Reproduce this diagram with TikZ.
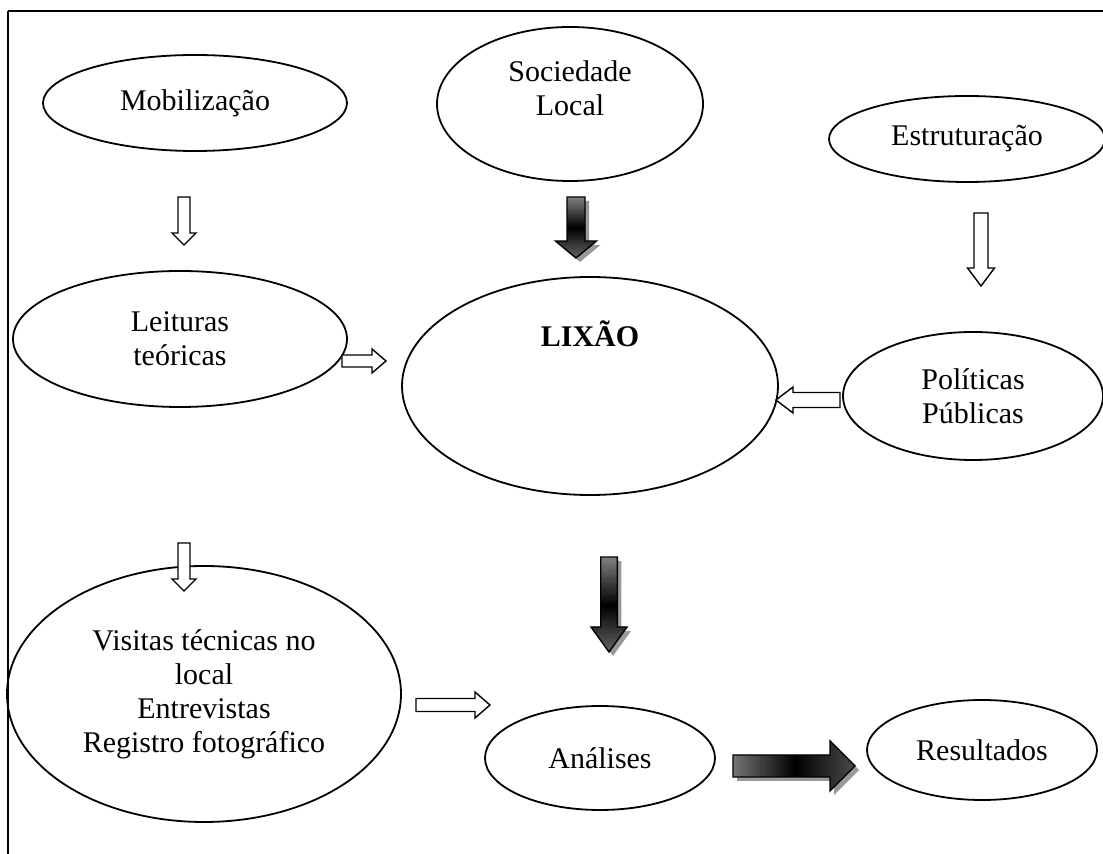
\documentclass[tikz,border=0pt]{standalone}
\usepackage{fontspec}
\setmainfont{Liberation Serif}
\usetikzlibrary{shapes.geometric}
% block arrows: #1 style, #2 x, #3 y, #4 length, #5 shaft half width, #6 head half width, #7 head length
\newcommand\downarr[7]{%
  \path[#1] ({#2-#5},#3) -- ({#2-#5},{#3+#4-#7}) -- ({#2-#6},{#3+#4-#7}) -- (#2,{#3+#4})
    -- ({#2+#6},{#3+#4-#7}) -- ({#2+#5},{#3+#4-#7}) -- ({#2+#5},#3) -- cycle;}
\newcommand\rightarr[7]{%
  \path[#1] (#2,{#3-#5}) -- ({#2+#4-#7},{#3-#5}) -- ({#2+#4-#7},{#3-#6}) -- ({#2+#4},#3)
    -- ({#2+#4-#7},{#3+#6}) -- ({#2+#4-#7},{#3+#5}) -- (#2,{#3+#5}) -- cycle;}
\newcommand\leftarr[7]{%
  \path[#1] (#2,{#3-#5}) -- ({#2-#4+#7},{#3-#5}) -- ({#2-#4+#7},{#3-#6}) -- ({#2-#4},#3)
    -- ({#2-#4+#7},{#3+#6}) -- ({#2-#4+#7},{#3+#5}) -- (#2,{#3+#5}) -- cycle;}
% dark gradient arrows (gray - black - gray along the length) with a drop shadow
\newcommand\darkdown[6]{%
  \downarr{shade}{#1}{#2}{#3}{#4}{#5}{#6}
  \begin{scope}
    \downarr{clip}{#1}{#2}{#3}{#4}{#5}{#6}
    \foreach \gi in {0,...,39}{%
      \pgfmathsetmacro\gp{\gi<20 ? 50+2.5*\gi : 100-2*(\gi-20)}%
      \fill[black!\gp] ({#1-40},{#2+\gi*#3/40}) rectangle ({#1+40},{#2+(\gi+1.4)*#3/40});}
  \end{scope}
  \downarr{draw, line width=0.7pt, line join=miter}{#1}{#2}{#3}{#4}{#5}{#6}}
\newcommand\darkright[6]{%
  \rightarr{shade}{#1}{#2}{#3}{#4}{#5}{#6}
  \begin{scope}
    \rightarr{clip}{#1}{#2}{#3}{#4}{#5}{#6}
    \foreach \gi in {0,...,39}{%
      \pgfmathsetmacro\gp{\gi<20 ? 55+2.25*\gi : 100-1.5*(\gi-20)}%
      \fill[black!\gp] ({#1+\gi*#3/40},{#2-40}) rectangle ({#1+(\gi+1.4)*#3/40},{#2+40});}
  \end{scope}
  \rightarr{draw, line width=0.7pt, line join=miter}{#1}{#2}{#3}{#4}{#5}{#6}}
\tikzset{
  txt/.style={font=\fontsize{15}{17}\selectfont},
  ell/.style={ellipse, draw, line width=0.9pt, inner sep=0pt, align=center, txt},
  hollow/.style={draw, line width=0.7pt, fill=white, line join=miter},
  shade/.style={fill=black!40, draw=none, xshift=2pt, yshift=-2pt}
}
\begin{document}
\begin{tikzpicture}[x=0.5pt, y=-0.5pt]
\useasboundingbox (0,0) rectangle (1103,854);
\draw[line width=1.3pt] (1103,11) -- (8,11);
\draw[line width=0.8pt] (8,11) -- (8,854);

\node[ell, minimum width=152pt, minimum height=48pt] (mob) at (195,103) {Mobilização};
\node[ell, minimum width=133pt, minimum height=77pt,
  label={[txt, align=center, yshift=8pt]center:Sociedade\\Local}] (soc) at (570,104) {};
\node[ell, minimum width=138pt, minimum height=43pt] (est) at (967,139) {Estruturação};
\node[ell, minimum width=167pt, minimum height=68pt] (lei) at (180,339) {Leituras\\teóricas};
\node[ell, minimum width=188pt, minimum height=109pt,
  label={[font=\fontsize{15}{17}\selectfont\bfseries, yshift=26pt]center:LIXÃO}] (lix) at (590,386) {};
\node[ell, minimum width=130pt, minimum height=64pt] (pol) at (973,396) {Políticas\\Públicas};
\node[ell, minimum width=197pt, minimum height=128pt] (vis) at (204,694)
  {Visitas técnicas no\\local\\Entrevistas\\Registro fotográfico};
\node[ell, minimum width=115pt, minimum height=52pt] (ana) at (600,758) {Análises};
\node[ell, minimum width=115pt, minimum height=50pt] (res) at (982,750) {Resultados};

% hollow arrows
\downarr{hollow}{184}{197}{48}{6}{12}{12}
\downarr{hollow}{184}{543}{48}{6}{12}{12}
\rightarr{hollow}{342}{361}{44}{6}{12}{14}
\downarr{hollow}{981}{213}{73}{7}{13.5}{18}
\leftarr{hollow}{840}{400}{64}{7.5}{13}{17}
\rightarr{hollow}{416}{705}{74}{6.5}{13}{15}

% dark arrows
\darkdown{576}{197}{61}{9}{20.5}{17}
\darkdown{609}{557}{95}{8.3}{18}{25}
\darkright{733}{766}{122}{11}{25}{25}
\end{tikzpicture}
\end{document}
